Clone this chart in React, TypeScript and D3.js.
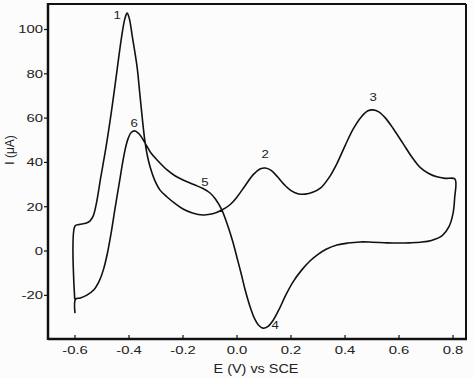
import React from "react";
import * as d3 from "d3";

// anodic sweep, -0.6 V -> 0.8 V (peaks 1, 2, 3)
const forwardE = [-0.601, -0.6, -0.585, -0.56, -0.545, -0.532, -0.52, -0.505, -0.485, -0.465, -0.445, -0.427, -0.415, -0.407, -0.399, -0.388, -0.37, -0.36, -0.35, -0.341, -0.332, -0.322, -0.305, -0.285, -0.259, -0.23, -0.2, -0.165, -0.126, -0.09, -0.056, -0.025, 0.0, 0.03, 0.06, 0.085, 0.104, 0.125, 0.15, 0.175, 0.2, 0.225, 0.252, 0.28, 0.31, 0.34, 0.37, 0.4, 0.43, 0.46, 0.485, 0.504, 0.525, 0.55, 0.58, 0.615, 0.65, 0.68, 0.71, 0.74, 0.77, 0.807];
const forwardI = [-21.7, 11.3, 12.0, 12.5, 13.5, 16, 22, 33, 47, 63, 81, 97, 105, 107.4, 105, 97, 83, 71, 59, 49.5, 43, 38, 32, 27.5, 24.4, 21.5, 19, 17.2, 16.3, 16.8, 18.5, 21, 24.4, 29.5, 34.5, 37, 37.5, 36.5, 33.5, 30, 27.3, 25.9, 25.7, 26.5, 28.5, 33, 39.5, 47.5, 55, 60.5, 63.3, 63.7, 62.8, 60, 55, 48.5, 42, 37.5, 35, 33.5, 32.8, 32.5];

// cathodic sweep, 0.8 V -> -0.6 V (peaks 4, 5, 6)
const reverseE = [0.806, 0.8, 0.785, 0.76, 0.72, 0.68, 0.64, 0.6, 0.556, 0.5, 0.456, 0.41, 0.37, 0.33, 0.3, 0.27, 0.24, 0.207, 0.18, 0.159, 0.135, 0.115, 0.096, 0.08, 0.065, 0.048, 0.03, 0.015, 0.0, -0.015, -0.033, -0.056, -0.08, -0.1, -0.126, -0.16, -0.2, -0.23, -0.259, -0.296, -0.32, -0.341, -0.36, -0.378, -0.392, -0.404, -0.414, -0.422, -0.437, -0.452, -0.465, -0.48, -0.495, -0.51, -0.53, -0.556, -0.58, -0.598, -0.6];
const reverseI = [24, 17, 11, 7, 4.8, 4.0, 3.7, 3.6, 3.7, 4.0, 4.1, 3.6, 2.7, 0.8, -1.5, -4.5, -8.5, -14, -20, -25.5, -31, -34, -34.8, -33.5, -30.5, -25, -17.5, -10, -3, 4, 11, 18.5, 23.5, 26.2, 28.2, 30, 32.1, 34, 36.6, 41.1, 44.5, 48.8, 52.5, 54.2, 53.5, 50.5, 46, 41, 30, 19, 9, -1, -8.5, -13.5, -17.5, -19.9, -21.2, -21.7, -28];

const peakLabels = ["1", "2", "3", "4", "5", "6"];
const peakE = [-0.444, 0.104, 0.504, 0.141, -0.119, -0.381];
const peakI = [106.5, 43.8, 69.5, -33.4, 31.2, 57.8];

const xTicks = [-0.6, -0.4, -0.2, 0.0, 0.2, 0.4, 0.6, 0.8];
const yTicks = [-20, 0, 20, 40, 60, 80, 100];

const width = 474;
const height = 378;
const margin = { top: 4, right: 8, bottom: 39, left: 48 };
const font = "'Liberation Sans', Arial, sans-serif";
const stretch = 1.35;

export default function App() {
  const x = d3.scaleLinear().domain([-0.7, 0.848]).range([margin.left, width - margin.right]);
  const y = d3.scaleLinear().domain([-39.7, 111.5]).range([height - margin.bottom, margin.top]);

  const pts: [number, number][] = [
    ...forwardE.map((e, i) => [e, forwardI[i]] as [number, number]),
    ...reverseE.map((e, i) => [e, reverseI[i]] as [number, number]),
  ];
  const line = d3
    .line<[number, number]>()
    .x((d) => x(d[0]))
    .y((d) => y(d[1]))
    .curve(d3.curveCatmullRom.alpha(0.5));

  const x0 = margin.left;
  const x1 = width - margin.right;
  const y0 = height - margin.bottom;
  const y1 = margin.top;

  return (
    <svg width={width} height={height} style={{ position: "absolute", left: 0, top: 0, background: "#fcfcfc" }}>
      <path d={line(pts) || ""} fill="none" stroke="#111" strokeWidth={1.6} />

      {/* frame */}
      <line x1={x0} x2={x1} y1={y1} y2={y1} stroke="#111" strokeWidth={2} />
      <line x1={x1} x2={x1} y1={y1} y2={y0} stroke="#111" strokeWidth={2} />
      <line x1={x0} x2={x0} y1={y1 - 1} y2={y0 + 1} stroke="#111" strokeWidth={2.5} />
      <line x1={x0} x2={x1 + 1} y1={y0} y2={y0} stroke="#111" strokeWidth={2.5} />

      {xTicks.map((t) => (
        <g key={"x" + t}>
          <line x1={x(t)} x2={x(t)} y1={y0} y2={y0 - 4} stroke="#111" strokeWidth={1.2} />
          <text
            transform={`translate(${x(t)},${y0 + 15}) scale(${stretch},1)`}
            textAnchor="middle"
            fontFamily={font}
            fontSize={11}
            fill="#222"
          >
            {t.toFixed(1)}
          </text>
        </g>
      ))}

      {yTicks.map((t) => (
        <g key={"y" + t}>
          <line x1={x0} x2={x0 - 4} y1={y(t)} y2={y(t)} stroke="#111" strokeWidth={1.2} />
          <text
            transform={`translate(${x0 - 5},${y(t) + 4}) scale(${stretch},1)`}
            textAnchor="end"
            fontFamily={font}
            fontSize={11}
            fill="#222"
          >
            {t}
          </text>
        </g>
      ))}

      {peakLabels.map((l, i) => (
        <text
          key={"p" + l}
          transform={`translate(${x(peakE[i])},${y(peakI[i]) + 4}) scale(1.2,1)`}
          textAnchor="middle"
          fontFamily={font}
          fontSize={11}
          fill="#222"
        >
          {l}
        </text>
      ))}

      <text
        transform={`translate(14,150) rotate(-90)`}
        textAnchor="middle"
        fontFamily={font}
        fontSize={12}
        fill="#222"
      >
        I (μA)
      </text>
      <text
        transform={`translate(256,373) scale(1.2,1)`}
        textAnchor="middle"
        fontFamily={font}
        fontSize={12}
        fill="#222"
      >
        E (V) vs SCE
      </text>
    </svg>
  );
}
